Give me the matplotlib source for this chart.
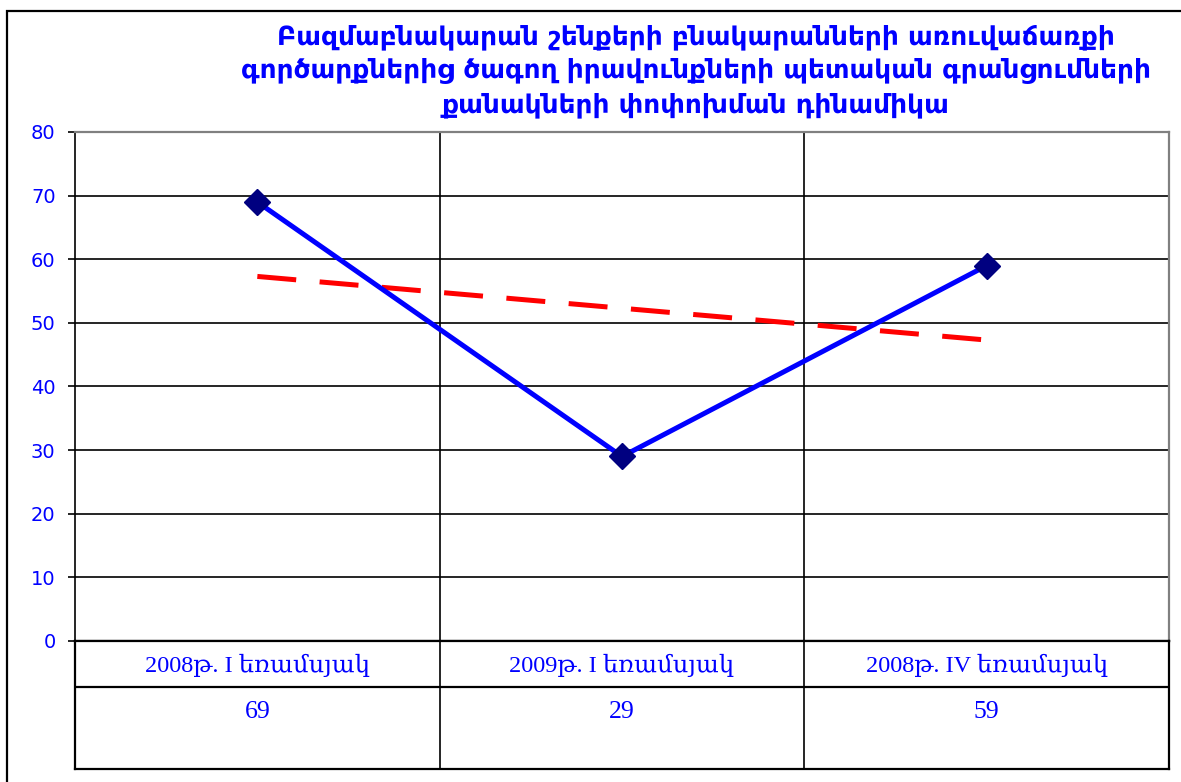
import matplotlib.pyplot as plt
from matplotlib.patches import Rectangle

# Data
categories = ['2008թ. I եռամսյակ', '2009թ. I եռամսյակ', '2008թ. IV եռամսյակ']
values = [69, 29, 59]
trend = [57.3, 52.3, 47.3]
yticks = [0, 10, 20, 30, 40, 50, 60, 70, 80]
title = ('Բազմաբնակարան շենքերի բնակարանների առուվաճառքի\n'
         'գործարքներից ծագող իրավունքների պետական գրանցումների\n'
         'քանակների փոփոխման դինամիկա')

W, H = 1181, 782
fig = plt.figure(figsize=(W / 100, H / 100), dpi=100)

def fbox(x0, y0, x1, y1):
    return [x0 / W, 1 - y1 / H, (x1 - x0) / W, (y1 - y0) / H]

# outer frame (cut by the image edge on the right and bottom)
fig.patches.append(Rectangle((7 / W, -0.1), 1.2, 1 - 11 / H + 0.1,
                             transform=fig.transFigure, fill=False,
                             edgecolor='black', linewidth=1.6))

fig.text(0.589, 1 - 24 / H, title, ha='center', va='top', color='#0000ff',
         fontsize=19, fontweight='bold', linespacing=1.4,
         family=['DejaVu Sans'])

ax = fig.add_axes(fbox(75, 132, 1169, 641))
xs = [i + 0.5 for i in range(len(categories))]
ax.plot(xs, values, color='#0000ff', lw=3.6, marker='D', markersize=13,
        markerfacecolor='#000080', markeredgecolor='#000080', zorder=4)
ax.plot([xs[0], xs[-1]], [trend[0], trend[-1]], color='#ff0000', lw=3.6,
        dashes=(7.8, 4.7), zorder=3)
ax.set_xlim(0, len(categories))
ax.set_ylim(yticks[0], yticks[-1])
ax.set_yticks(yticks)
ax.set_yticklabels([str(v) for v in yticks], color='#0000ff', fontsize=14)
ax.set_xticks([])
for v in yticks[1:-1]:
    ax.axhline(v, color='black', lw=1.2, zorder=1)
for i in range(1, len(categories)):
    ax.axvline(i, color='black', lw=1.2, zorder=1)
ax.tick_params(axis='y', length=5, width=1.2, direction='out', pad=9)
ax.spines['left'].set_color('black')
ax.spines['left'].set_linewidth(1.2)
ax.spines['bottom'].set_color('black')
ax.spines['bottom'].set_linewidth(1.6)
for s in ('top', 'right'):
    ax.spines[s].set_color('#808080')
    ax.spines[s].set_linewidth(1.6)

# data table below the plot
tb = fig.add_axes(fbox(75, 641, 1169, 769))
tb.set_xlim(0, len(categories))
tb.set_ylim(0, 128)
tb.set_xticks([])
tb.set_yticks([])
for s in tb.spines.values():
    s.set_color('black')
    s.set_linewidth(1.6)
tb.axhline(128 - 46, color='black', lw=1.6)
for i in range(1, len(categories)):
    tb.axvline(i, color='black', lw=1.2)
serif = ['Liberation Serif', 'DejaVu Serif']
for x, c, v in zip(xs, categories, values):
    tb.text(x, 128 - 24, c, ha='center', va='center', color='#0000ff',
            fontsize=17.5, family=serif)
    tb.text(x, 128 - 71, str(v), ha='center', va='center', color='#0000ff',
            fontsize=18.5, family=serif)

fig.savefig('out.png', dpi=100)
